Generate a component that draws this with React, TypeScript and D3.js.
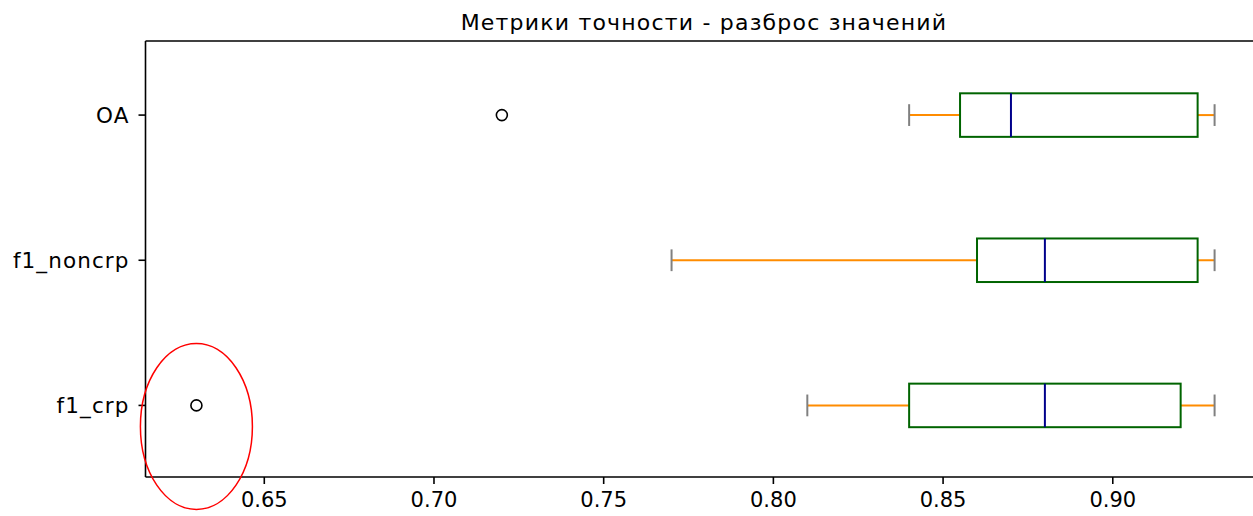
import { useEffect, useRef } from "react"
import * as d3 from "d3"

// five-number summaries per metric
const categories = ["f1_crp", "f1_noncrp", "OA"]
const whiskerLow = [0.81, 0.77, 0.84]
const q1 = [0.84, 0.86, 0.855]
const medians = [0.88, 0.88, 0.87]
const q3 = [0.92, 0.925, 0.925]
const whiskerHigh = [0.93, 0.93, 0.93]
const outliers = [[0.63], [], [0.72]]
const xTicks = [0.65, 0.7, 0.75, 0.8, 0.85, 0.9]

const W = 1253
const H = 516

export default function App() {
    const svgRef = useRef<SVGSVGElement>(null)

    useEffect(() => {
        if (!svgRef.current) return
        const svg = d3.select(svgRef.current)
        svg.selectAll("*").remove()

        const left = 145.5
        const top = 41
        const bottom = 477
        const right = 1265.5

        const x = d3.scaleLinear().domain([0.615, 0.945]).range([left, right])
        // positions 1..3 like matplotlib, ylim 0.5..3.5
        const y = d3.scaleLinear().domain([0.5, 3.5]).range([bottom + 1, top + 1.5])
        const pos = (i: number) => y(i + 1)
        const boxH = y(0) - y(0.3)
        const capH = boxH / 2

        const font = "'DejaVu Sans', sans-serif"

        svg.append("text")
            .attr("x", 704)
            .attr("y", 22)
            .attr("text-anchor", "middle")
            .attr("dominant-baseline", "central")
            .style("font-family", font)
            .style("font-size", "22px")
            .style("letter-spacing", "1.2px")
            .attr("fill", "#000")
            .text("Метрики точности - разброс значений")

        const g = svg.append("g")

        categories.forEach((c, i) => {
            const cy = pos(i)
            // whiskers
            g.append("line")
                .attr("x1", x(whiskerLow[i])).attr("x2", x(q1[i]))
                .attr("y1", cy).attr("y2", cy)
                .attr("stroke", "#FF8C00").attr("stroke-width", 2)
            g.append("line")
                .attr("x1", x(q3[i])).attr("x2", x(whiskerHigh[i]))
                .attr("y1", cy).attr("y2", cy)
                .attr("stroke", "#FF8C00").attr("stroke-width", 2)
            // caps
            ;[whiskerLow[i], whiskerHigh[i]].forEach(v => {
                g.append("line")
                    .attr("x1", x(v)).attr("x2", x(v))
                    .attr("y1", cy - capH / 2).attr("y2", cy + capH / 2)
                    .attr("stroke", "#808080").attr("stroke-width", 2)
            })
            // box
            g.append("rect")
                .attr("x", x(q1[i]))
                .attr("y", cy - boxH / 2)
                .attr("width", x(q3[i]) - x(q1[i]))
                .attr("height", boxH)
                .attr("fill", "none")
                .attr("stroke", "#006400").attr("stroke-width", 2)
            // median
            g.append("line")
                .attr("x1", x(medians[i])).attr("x2", x(medians[i]))
                .attr("y1", cy - boxH / 2).attr("y2", cy + boxH / 2)
                .attr("stroke", "#00008B").attr("stroke-width", 2)
            // fliers
            outliers[i].forEach(v => {
                g.append("circle")
                    .attr("cx", x(v)).attr("cy", cy).attr("r", 5.5)
                    .attr("fill", "none")
                    .attr("stroke", "#000").attr("stroke-width", 1.6)
            })
        })

        // spines
        svg.append("line").attr("x1", left).attr("x2", W).attr("y1", top).attr("y2", top)
            .attr("stroke", "#000").attr("stroke-width", 1.6)
        svg.append("line").attr("x1", left).attr("x2", W).attr("y1", bottom).attr("y2", bottom)
            .attr("stroke", "#000").attr("stroke-width", 1.6)
        svg.append("line").attr("x1", left).attr("x2", left).attr("y1", top).attr("y2", bottom)
            .attr("stroke", "#000").attr("stroke-width", 1.6)

        // x ticks
        const xt = svg.append("g")
        xTicks.forEach(t => {
            xt.append("line")
                .attr("x1", x(t)).attr("x2", x(t))
                .attr("y1", bottom).attr("y2", bottom + 7)
                .attr("stroke", "#000").attr("stroke-width", 1.6)
            xt.append("text")
                .attr("x", x(t))
                .attr("y", bottom + 14)
                .attr("dy", "0.76em")
                .attr("text-anchor", "middle")
                .style("font-family", font)
                .style("font-size", "21px")
                .attr("fill", "#000")
                .text(d3.format(".2f")(t))
        })

        // y ticks
        categories.forEach((c, i) => {
            const cy = pos(i)
            svg.append("line")
                .attr("x1", left - 7).attr("x2", left)
                .attr("y1", cy).attr("y2", cy)
                .attr("stroke", "#000").attr("stroke-width", 1.6)
            svg.append("text")
                .attr("x", left - 16)
                .attr("y", cy)
                .attr("dy", "0.35em")
                .attr("text-anchor", "end")
                .style("font-family", font)
                .style("font-size", "21.5px")
                .style("letter-spacing", "1.1px")
                .attr("fill", "#000")
                .text(c)
        })

        // hand-drawn red ellipse around the f1_crp outlier
        svg.append("ellipse")
            .attr("cx", x(outliers[0][0]))
            .attr("cy", pos(0) + 21)
            .attr("rx", 56)
            .attr("ry", 83)
            .attr("fill", "none")
            .attr("stroke", "#ff0000")
            .attr("stroke-width", 1.5)
    }, [])

    return (
        <svg ref={svgRef} width={W} height={H}
            style={{ position: "absolute", left: 0, top: 0, background: "#fff" }} />
    )
}
